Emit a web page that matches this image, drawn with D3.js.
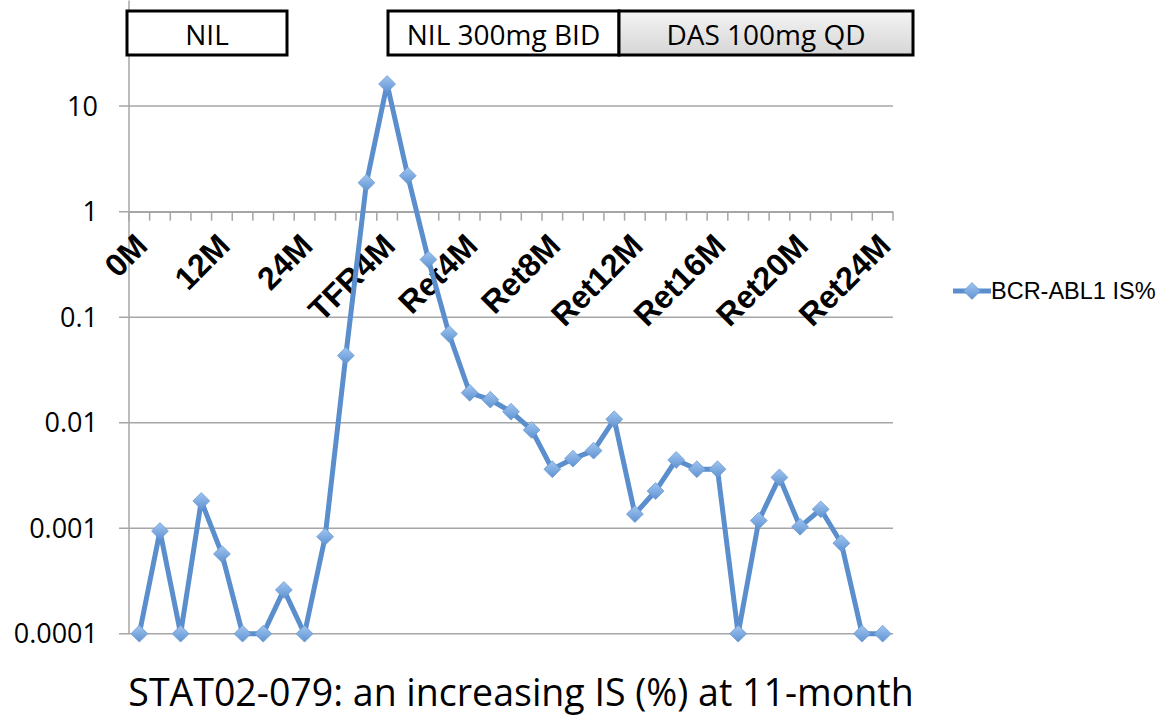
<!DOCTYPE html>
<html>
<head>
<meta charset="utf-8">
<script src="https://cdn.jsdelivr.net/npm/d3@7"></script>
<style>
  body { margin: 0; background: #fff; }
  svg { display: block; }
</style>
</head>
<body>
<svg id="chart" width="1168" height="718"></svg>
<script>
// Categories (sampling time points)
const categories = ["0M", "3M", "6M", "9M", "12M", "15M", "18M", "21M", "24M",
    "TFR1M", "TFR2M", "TFR3M", "TFR4M",
    "Ret1M", "Ret2M", "Ret3M", "Ret4M", "Ret5M", "Ret6M", "Ret7M", "Ret8M",
    "Ret9M", "Ret10M", "Ret11M", "Ret12M", "Ret13M", "Ret14M", "Ret15M", "Ret16M",
    "Ret17M", "Ret18M", "Ret19M", "Ret20M", "Ret21M", "Ret22M", "Ret23M", "Ret24M"];

// BCR-ABL1 IS% values
const isValues = [0.0001, 0.00094, 0.0001, 0.00181, 0.00057, 0.0001, 0.0001, 0.00026, 0.0001,
    0.00083, 0.0432, 1.88, 16.2,
    2.19, 0.351, 0.0693, 0.0192, 0.0165, 0.0127, 0.00853, 0.00362,
    0.00456, 0.00543, 0.01077, 0.00136, 0.00225, 0.00443, 0.00362, 0.00362,
    0.0001, 0.00118, 0.00303, 0.00103, 0.00151, 0.00072, 0.0001, 0.0001];

const yTickValues = [0.0001, 0.001, 0.01, 0.1, 1, 10];
const yTickLabels = ["0.0001", "0.001", "0.01", "0.1", "1", "10"];
const shownLabels = ["0M", "12M", "24M", "TFR4M", "Ret4M", "Ret8M", "Ret12M", "Ret16M", "Ret20M", "Ret24M"];

// Treatment banners
const bannerNames = ["NIL", "NIL 300mg BID", "DAS 100mg QD"];

const seriesName = "BCR-ABL1 IS%";
const chartTitle = "STAT02-079: an increasing IS (%) at 11-month";

const svg = d3.select("#chart");
const plot = {left: 129, right: 893, top: 0.6, bottom: 633.7};
const lineColor = "#5a8ecc";
const gridColor = "#a6a6a6";
const sans = "'Open Sans', 'Noto Sans', sans-serif";

const x = d3.scaleBand().domain(categories).range([plot.left, plot.right]);
const y = d3.scaleLog().domain([0.0001, 100]).range([plot.bottom, plot.top]);
const cx = c => x(c) + x.bandwidth() / 2;

const defs = svg.append("defs");
const mg = defs.append("linearGradient").attr("id", "markerFill")
    .attr("x1", 0).attr("y1", 0).attr("x2", 0).attr("y2", 1);
mg.append("stop").attr("offset", "0%").attr("stop-color", "#a0c5f0");
mg.append("stop").attr("offset", "100%").attr("stop-color", "#5f93d3");
const bg = defs.append("linearGradient").attr("id", "dasFill")
    .attr("x1", 0).attr("y1", 0).attr("x2", 0).attr("y2", 1);
bg.append("stop").attr("offset", "0%").attr("stop-color", "#f4f4f4");
bg.append("stop").attr("offset", "100%").attr("stop-color", "#d6d6d6");

// horizontal gridlines
svg.append("g")
    .selectAll("line")
    .data(yTickValues)
    .join("line")
    .attr("x1", plot.left - 10)
    .attr("x2", plot.right)
    .attr("y1", d => y(d))
    .attr("y2", d => y(d))
    .attr("stroke", gridColor)
    .attr("stroke-width", 1.5);

// y axis line + labels
svg.append("line")
    .attr("x1", plot.left).attr("x2", plot.left)
    .attr("y1", plot.top).attr("y2", plot.bottom)
    .attr("stroke", gridColor).attr("stroke-width", 1.5);

svg.append("g")
    .selectAll("text")
    .data(yTickValues)
    .join("text")
    .attr("x", 98)
    .attr("y", d => y(d))
    .attr("dy", "0.36em")
    .attr("text-anchor", "end")
    .attr("font-family", sans)
    .attr("font-size", 27)
    .attr("fill", "#000")
    .text((d, i) => yTickLabels[i]);

// x axis crossing at 1
const y0 = y(1);
const xAxis = svg.append("g")
    .attr("transform", "translate(0," + y0 + ")")
    .call(d3.axisBottom(x).tickSize(0).tickFormat(""));
xAxis.select(".domain").attr("stroke", gridColor).attr("stroke-width", 1.5);
xAxis.append("g")
    .selectAll("line")
    .data(categories.concat(["end"]))
    .join("line")
    .attr("x1", (d, i) => i < categories.length ? x(d) : plot.right)
    .attr("x2", (d, i) => i < categories.length ? x(d) : plot.right)
    .attr("y1", 0).attr("y2", 9)
    .attr("stroke", gridColor).attr("stroke-width", 1.5);

svg.append("g")
    .selectAll("text")
    .data(shownLabels)
    .join("text")
    .attr("transform", d => "translate(" + (cx(d) + 10) + "," + (y0 + 36) + ") rotate(-45)")
    .attr("text-anchor", "end")
    .attr("font-family", "'Liberation Sans', Arial, sans-serif")
    .attr("font-weight", "bold")
    .attr("font-size", 32)
    .attr("fill", "#000")
    .text(d => d);

// series line
const pts = categories.map((c, i) => ({c, v: isValues[i]}));
svg.append("path")
    .datum(pts)
    .attr("fill", "none")
    .attr("stroke", lineColor)
    .attr("stroke-width", 5)
    .attr("stroke-linejoin", "round")
    .attr("d", d3.line().x(d => cx(d.c)).y(d => y(d.v)));

const diamond = d3.symbol().type(d3.symbolDiamond2).size(180);
svg.append("g")
    .selectAll("path")
    .data(pts)
    .join("path")
    .attr("transform", d => "translate(" + cx(d.c) + "," + y(d.v) + ")")
    .attr("d", diamond)
    .attr("fill", "url(#markerFill)")
    .attr("stroke", "#6e9ad0")
    .attr("stroke-width", 0.8);

// legend
const lg = svg.append("g").attr("transform", "translate(953,291)");
lg.append("line").attr("x1", 0).attr("x2", 38).attr("y1", 0).attr("y2", 0)
    .attr("stroke", lineColor).attr("stroke-width", 5);
lg.append("path").attr("transform", "translate(19,0)").attr("d", diamond)
    .attr("fill", "url(#markerFill)").attr("stroke", "#6e9ad0").attr("stroke-width", 0.8);
lg.append("text")
    .attr("x", 38).attr("y", 0).attr("dy", "0.36em")
    .attr("font-family", "'Liberation Sans', Arial, sans-serif")
    .attr("font-size", 23.5)
    .text(seriesName);

// treatment banners
const bannerLeft = [127, 388, 619];
const bannerRight = [287, 619, 913];
const banners = svg.append("g")
    .selectAll("g")
    .data(bannerNames)
    .join("g");
banners.append("rect")
    .attr("x", (d, i) => bannerLeft[i])
    .attr("y", 11)
    .attr("width", (d, i) => bannerRight[i] - bannerLeft[i])
    .attr("height", 44)
    .attr("fill", (d, i) => i === 2 ? "url(#dasFill)" : "#fff")
    .attr("stroke", "#000")
    .attr("stroke-width", 3);
banners.append("text")
    .attr("x", (d, i) => (bannerLeft[i] + bannerRight[i]) / 2)
    .attr("y", 35)
    .attr("dy", "0.36em")
    .attr("text-anchor", "middle")
    .attr("font-family", sans)
    .attr("font-size", 28)
    .text(d => d);

// caption
svg.append("text")
    .attr("x", 521)
    .attr("y", 706)
    .attr("text-anchor", "middle")
    .attr("font-family", sans)
    .attr("font-size", 37.5)
    .text(chartTitle);
</script>
</body>
</html>
